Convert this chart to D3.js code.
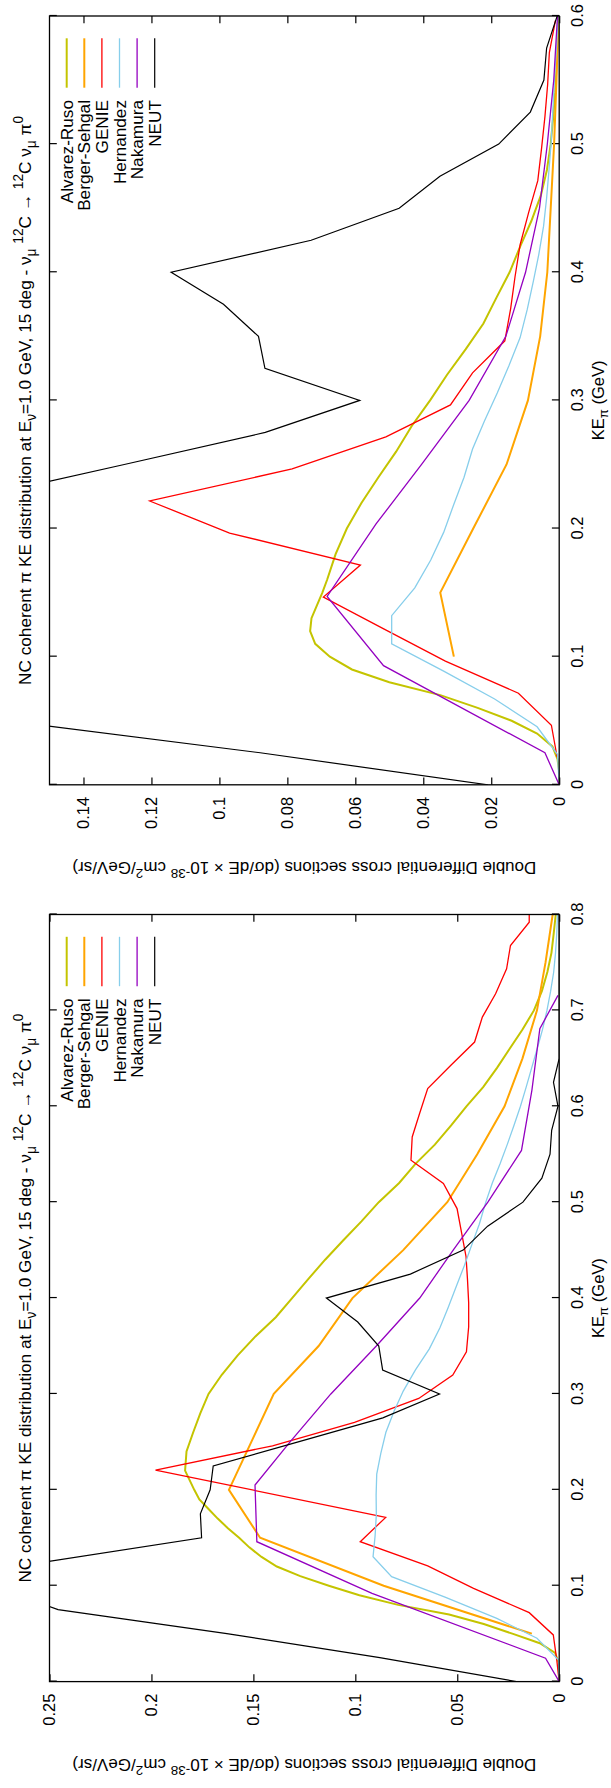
<!DOCTYPE html>
<html><head><meta charset="utf-8">
<script src="https://cdn.jsdelivr.net/npm/d3@7"></script>
<style>
body{margin:0;background:#fff}
svg{display:block}
text{font-family:"Liberation Sans",Arial,Helvetica,sans-serif;fill:#000}
</style>
</head><body><div id="chart"></div>
<script>
// ---------- series meta ----------
const seriesNames = ["Alvarez-Ruso","Berger-Sehgal","GENIE","Hernandez","Nakamura","NEUT"];
const seriesColors = ["#c4c400","#ffa500","#ff0000","#87ceeb","#9400c0","#000000"];
const seriesWidths = [2,2,1.3,1.3,1.3,1.2];

// ---------- tick values ----------
const topKETicks = [0,0.1,0.2,0.3,0.4,0.5,0.6];
const topXSTicks = [0,0.02,0.04,0.06,0.08,0.1,0.12,0.14];
const botKETicks = [0,0.1,0.2,0.3,0.4,0.5,0.6,0.7,0.8];
const botXSTicks = [0,0.05,0.1,0.15,0.2,0.25];

// ---------- top panel data [KE (GeV), dsigma] ----------
const topAlvarez = [[0,0],[0.01,0],[0.02,0.0005],[0.03,0.002],[0.04,0.0065],[0.05,0.014],[0.06,0.024],[0.07,0.035],[0.08,0.050],[0.09,0.061],[0.10,0.0675],[0.11,0.0718],[0.12,0.0733],[0.13,0.0729],[0.14,0.0713],[0.15,0.0697],[0.16,0.0683],[0.18,0.0658],[0.20,0.0625],[0.22,0.0582],[0.24,0.0532],[0.26,0.048],[0.28,0.0434],[0.30,0.038],[0.32,0.033],[0.34,0.0275],[0.36,0.0223],[0.38,0.0185],[0.40,0.0146],[0.42,0.0115],[0.44,0.0082],[0.46,0.0054],[0.48,0.0036],[0.50,0.0025],[0.52,0.0018],[0.54,0.0012],[0.56,0.0008],[0.58,0.0005],[0.60,0.0002]];
const topBerger = [[0.1,0.031],[0.15,0.035],[0.2,0.0253],[0.25,0.0155],[0.3,0.0092],[0.35,0.0056],[0.4,0.0035],[0.45,0.0025],[0.5,0.0015],[0.55,0.0008],[0.6,0.0002]];
const topGenie = [[0.0215,0.0006],[0.0465,0.0023],[0.0715,0.012],[0.0965,0.0335],[0.1215,0.0515],[0.1465,0.0694],[0.1715,0.0585],[0.1965,0.097],[0.2215,0.1205],[0.2465,0.0786],[0.2715,0.051],[0.2965,0.032],[0.3215,0.0255],[0.3465,0.016],[0.3715,0.0143],[0.3965,0.013],[0.4215,0.0115],[0.4465,0.009],[0.4715,0.0063],[0.4965,0.0052],[0.5215,0.0042],[0.5465,0.0034],[0.5715,0.0029],[0.5965,0.0011]];
const topHernandez = [[0,0],[0.0236,0.0005],[0.0453,0.0065],[0.067,0.019],[0.0887,0.034],[0.11,0.0493],[0.132,0.0493],[0.1537,0.0425],[0.1754,0.0378],[0.197,0.034],[0.219,0.031],[0.24,0.028],[0.262,0.0255],[0.284,0.022],[0.306,0.0182],[0.327,0.0148],[0.349,0.0115],[0.371,0.0094],[0.393,0.0076],[0.414,0.006],[0.436,0.0046],[0.458,0.0037],[0.48,0.003],[0.5,0.0024],[0.52,0.002],[0.54,0.0016],[0.56,0.0012],[0.58,0.0007],[0.6,0.0003]];
const topNakamura = [[0,0],[0.025,0.0042],[0.093,0.0517],[0.147,0.0683],[0.2036,0.0539],[0.25,0.0405],[0.3,0.0265],[0.35,0.0157],[0.4,0.0099],[0.45,0.0058],[0.5,0.0035],[0.55,0.0016],[0.6,0.0005]];
const neutValues = [[0,0.021],[0.025,0.088],[0.05,0.163],[0.075,0.2458],[0.1,0.277],[0.125,0.2515],[0.15,0.1754],[0.175,0.176],[0.2,0.1712],[0.225,0.1697],[0.25,0.128],[0.275,0.0865],[0.3,0.0587],[0.325,0.0866],[0.35,0.0885],[0.375,0.0988],[0.4,0.1142],[0.425,0.073],[0.45,0.0471],[0.475,0.0351],[0.5,0.0178],[0.525,0.0085],[0.55,0.0045],[0.575,0.0037],[0.6,0.0006],[0.625,0.0028],[0.65,0],[0.675,0],[0.7,0],[0.725,0],[0.75,0],[0.775,0],[0.8,0]];

// ---------- bottom panel data ----------
const botAlvarez = [[0,0],[0.02,0.0003],[0.03,0.002],[0.04,0.0095],[0.05,0.023],[0.06,0.037],[0.07,0.054],[0.08,0.079],[0.09,0.098],[0.10,0.113],[0.11,0.127],[0.12,0.1385],[0.13,0.146],[0.14,0.152],[0.15,0.157],[0.16,0.1625],[0.17,0.1675],[0.18,0.172],[0.19,0.1765],[0.20,0.179],[0.22,0.1835],[0.24,0.1828],[0.26,0.1795],[0.28,0.176],[0.30,0.172],[0.32,0.1655],[0.34,0.1578],[0.36,0.149],[0.38,0.139],[0.40,0.131],[0.42,0.123],[0.44,0.1148],[0.46,0.106],[0.48,0.097],[0.50,0.0885],[0.52,0.0785],[0.54,0.0705],[0.56,0.061],[0.58,0.053],[0.60,0.0455],[0.62,0.0373],[0.64,0.0305],[0.66,0.0243],[0.68,0.018],[0.70,0.0124],[0.72,0.0085],[0.74,0.0058],[0.76,0.0038],[0.78,0.0027],[0.80,0.0017]];
const botBerger = [[0.05,0.0134],[0.1,0.0861],[0.15,0.1467],[0.2,0.162],[0.25,0.151],[0.3,0.14],[0.35,0.118],[0.4,0.1014],[0.45,0.0765],[0.5,0.0549],[0.55,0.0402],[0.6,0.0268],[0.65,0.018],[0.7,0.0109],[0.75,0.0067],[0.8,0.0032]];
const botGenie = [[0,0],[0.0226,0.0012],[0.0487,0.0029],[0.0719,0.0147],[0.0973,0.042],[0.1206,0.0645],[0.1459,0.0976],[0.1713,0.0851],[0.2206,0.198],[0.2459,0.1406],[0.2703,0.1004],[0.2953,0.0689],[0.3196,0.0522],[0.3439,0.0455],[0.37,0.0444],[0.395,0.0444],[0.42,0.045],[0.4433,0.0457],[0.4673,0.0478],[0.4933,0.0501],[0.5194,0.0568],[0.5437,0.0727],[0.568,0.0721],[0.593,0.0684],[0.6184,0.0645],[0.643,0.053],[0.667,0.0415],[0.693,0.0377],[0.7174,0.0312],[0.7434,0.0258],[0.7677,0.0239],[0.792,0.0147],[0.8,0.0147]];
const botHernandez = [[0,0],[0.0226,0.0003],[0.0452,0.0109],[0.066,0.0306],[0.088,0.056],[0.1094,0.0822],[0.1303,0.0913],[0.152,0.0903],[0.174,0.0897],[0.1946,0.0898],[0.2163,0.0895],[0.238,0.0875],[0.26,0.085],[0.282,0.081],[0.303,0.0765],[0.325,0.0705],[0.347,0.0637],[0.369,0.0585],[0.39,0.0545],[0.412,0.0505],[0.434,0.0465],[0.456,0.0428],[0.477,0.0392],[0.5,0.036],[0.52,0.0328],[0.54,0.029],[0.56,0.0255],[0.58,0.0222],[0.6,0.019],[0.62,0.0162],[0.64,0.0135],[0.66,0.0108],[0.68,0.0082],[0.7,0.006],[0.72,0.0042],[0.74,0.0027],[0.76,0.0018],[0.78,0.0012],[0.8,0.0008]];
const botNakamura = [[0,0],[0.0244,0.0067],[0.0921,0.0918],[0.1459,0.1483],[0.205,0.1492],[0.25,0.132],[0.3,0.112],[0.35,0.0897],[0.4,0.0684],[0.45,0.052],[0.5,0.035],[0.554,0.0185],[0.6166,0.0134],[0.681,0.0095],[0.7156,0.0006]];

// ---------- text ----------
const titleParts = [["NC coherent \u03c0 KE distribution at E",""],["\u03bd","sub"],["=1.0 GeV, 15 deg - \u03bd",""],["\u03bc","sub"],[" ",""],["12","sup"],["C \u2192 ",""],["12","sup"],["C \u03bd",""],["\u03bc","sub"],[" \u03c0",""],["0","sup"]];
const yLabelParts = [["Double Differential cross sections (d\u03c3/dE \u00d7 10",""],["-38","sup"],[" cm",""],["2","sup"],["/GeV/sr)",""]];
const xLabelParts = [["KE",""],["\u03c0","sub"],[" (GeV)",""]];

const FS = 16.5, FS_LEG = 17.2, FS_TITLE = 17.2, FS_YLAB = 17;

function rich(textSel, parts, fs, subK){
  let cur = 0;
  parts.forEach(([t,kind])=>{
    const target = kind==="sup" ? -0.42*fs : kind==="sub" ? (subK||0.28)*fs : 0;
    const ts = textSel.append("tspan").text(t).attr("dy", (target-cur).toFixed(2));
    if(kind) ts.attr("font-size", (fs*0.8).toFixed(2));
    cur = target;
  });
}

const svg = d3.select("#chart").append("svg").attr("width",611).attr("height",1788);
svg.append("rect").attr("width",611).attr("height",1788).attr("fill","#fff");

function drawPanel(cfg, idx){
  const {x0,y0,W,H,keMax,xsMax,keTicks,xsTicks,series} = cfg;
  const g = svg.append("g").attr("transform",`translate(${x0},${y0}) rotate(-90)`);
  const x = d3.scaleLinear().domain([0,keMax]).range([0,W]);
  const y = d3.scaleLinear().domain([0,xsMax]).range([H,0]);
  const fmt = v => String(+v.toFixed(3));

  const clipId = "clip"+idx;
  g.append("clipPath").attr("id",clipId).append("rect").attr("width",W).attr("height",H);

  const ax = [
    g.append("g").attr("transform",`translate(0,${H})`).call(d3.axisBottom(x).tickValues(keTicks).tickFormat(fmt).tickSize(-7.3).tickPadding(24-0.71*FS)),
    g.append("g").call(d3.axisTop(x).tickValues(keTicks).tickFormat("").tickSize(-7.3)),
    g.append("g").call(d3.axisLeft(y).tickValues(xsTicks).tickFormat(fmt).tickSize(-7.3).tickPadding(12)),
    g.append("g").attr("transform",`translate(${W},0)`).call(d3.axisRight(y).tickValues(xsTicks).tickFormat("").tickSize(-7.3))
  ];
  ax.forEach(a=>{
    a.select(".domain").remove();
    a.selectAll("line").attr("stroke","#000").attr("stroke-width",1.2);
    a.selectAll("text").attr("font-size",FS).attr("font-family",null).attr("fill","#000");
  });

  const line = d3.line().x(d=>x(d[0])).y(d=>y(d[1]));
  const cg = g.append("g").attr("clip-path",`url(#${clipId})`);
  series.forEach((s,i)=>{
    cg.append("path").datum(s).attr("d",line).attr("fill","none")
      .attr("stroke",seriesColors[i]).attr("stroke-width",seriesWidths[i]).attr("stroke-linejoin","miter");
  });

  g.append("rect").attr("width",W).attr("height",H).attr("fill","none").attr("stroke","#000").attr("stroke-width",1.3);

  seriesNames.forEach((n,i)=>{
    const ly = 17.2 + i*17.6;
    g.append("line").attr("x1",W-71.7).attr("x2",W-22.3).attr("y1",ly).attr("y2",ly)
      .attr("stroke",seriesColors[i]).attr("stroke-width",seriesWidths[i]);
    g.append("text").attr("x",W-84).attr("y",ly).attr("dy","0.35em").attr("text-anchor","end")
      .attr("font-size",FS_LEG).text(n);
  });

  const t = g.append("text").attr("x",W/2).attr("y",-18.8).attr("text-anchor","middle").attr("font-size",FS_TITLE);
  rich(t,titleParts,FS_TITLE);
  const xl = g.append("text").attr("x",W/2).attr("y",H+45).attr("text-anchor","middle").attr("font-size",FS);
  rich(xl,xLabelParts,FS,0.2);
  const yl = g.append("text").attr("transform",`translate(-77,${H/2}) rotate(-90)`).attr("text-anchor","middle").attr("font-size",FS_YLAB);
  rich(yl,yLabelParts,FS_YLAB);
}

drawPanel({x0:49.5,y0:784.8,W:768.8,H:509.7,keMax:0.6,xsMax:0.15,keTicks:topKETicks,xsTicks:topXSTicks,
  series:[topAlvarez,topBerger,topGenie,topHernandez,topNakamura,neutValues]},0);
drawPanel({x0:49.5,y0:1681.6,W:767.1,H:509.7,keMax:0.8,xsMax:0.25,keTicks:botKETicks,xsTicks:botXSTicks,
  series:[botAlvarez,botBerger,botGenie,botHernandez,botNakamura,neutValues]},1);
</script>
</body></html>
